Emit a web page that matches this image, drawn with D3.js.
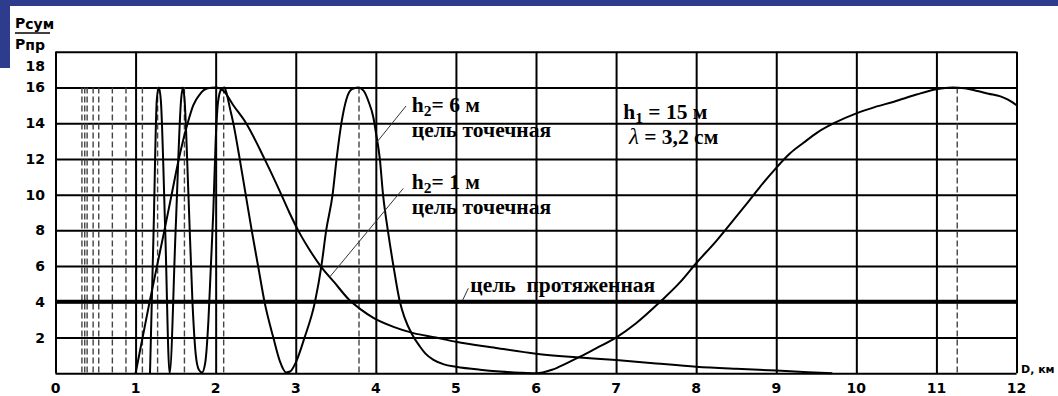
<!DOCTYPE html>
<html><head><meta charset="utf-8">
<script src="https://cdn.jsdelivr.net/npm/d3@7/dist/d3.min.js"></script>
<style>
body{margin:0;background:#fff}
svg{display:block}
.sans{font-family:"DejaVu Sans",Verdana,sans-serif;font-weight:bold;fill:#000}
.serif{font-family:"Liberation Serif","Times New Roman",serif;font-weight:bold;fill:#000}
</style>
</head><body>
<svg id="c" width="1058" height="396"></svg>
<script>
// ---- data ----
const xTicks = [0,1,2,3,4,5,6,7,8,9,10,11,12];
const yTicks = [2,4,6,8,10,12,14,16,18];
const yLabels = ["2","4","6","8","10","12","14","16","18"];
const maxMarkersKm = [0.33,0.365,0.395,0.47,0.54,0.71,0.88,1.085,1.275,1.61,2.1,3.79,11.26];
const extendedLevel = 4;

// h2 = 6 m, point target
const h6Dist  = [1.18,1.225,1.265,1.29,1.315,1.37,1.425,1.50,1.57,1.59,1.61,1.66,1.71,1.75,1.79,1.83,1.87,1.91,1.94,1.97,2.0,2.03,2.07,2.11,2.14,2.18,2.22,2.30,2.375,2.45,2.53,2.61,2.72,2.80,2.88,2.93,3.0,3.11,3.24,3.32,3.38,3.46,3.51,3.57,3.63,3.70,3.78,3.85,3.91,3.97,4.0,4.05,4.09,4.15,4.22,4.30,4.36,4.45,4.55,4.62,4.72,4.85,5.0,5.3,5.55,5.8,6.0,6.2,6.38,6.55,6.75,7.0,7.25,7.55,7.8,8.0,8.25,8.47,8.65,8.8,9.0,9.17,9.34,9.52,9.72,10.0,10.23,10.47,10.75,11.0,11.2,11.35,11.51,11.65,11.8,11.9,12.0];
const h6Power = [0,8,15.3,16,15.3,8,0,8,15.4,16,15.4,10,4,1.1,0.2,0.05,0.6,3,6,9,13,15.2,15.9,16,15.6,14.8,14,12,10,8,6,4,2,0.7,0.05,0.1,0.6,2,4,6,8,10,12,14,15.3,15.9,16,15.8,15.2,14.3,13.5,12,10,8,6,4,3.1,2.2,1.5,1.1,0.75,0.5,0.37,0.2,0.1,0.03,0,0.2,0.56,0.93,1.4,2.0,2.8,4.0,5.1,6.16,7.4,8.6,9.6,10.45,11.5,12.3,12.9,13.5,14.0,14.55,14.9,15.2,15.6,15.9,16,15.95,15.8,15.65,15.5,15.3,15.0];

// h2 = 1 m, point target
const h1Dist  = [1.0,1.175,1.36,1.45,1.54,1.65,1.72,1.80,1.90,2.0,2.1,2.22,2.38,2.61,2.82,2.92,3.03,3.16,3.31,3.48,3.67,3.82,3.97,4.22,4.47,4.75,5.0,5.5,6.0,6.5,7.0,7.5,8.0,8.5,9.0,9.4,9.7];
const h1Power = [0,4,8,10,12,14,15,15.6,15.95,16,15.8,15.0,14,12,10,9,8,7,6,5.1,4.1,3.55,3.1,2.6,2.25,2.0,1.76,1.42,1.1,0.9,0.74,0.55,0.37,0.25,0.15,0.06,0];

// ---- drawing ----
const svg = d3.select("#c");
const x = d3.scaleLinear().domain([0,12]).range([55.5,1016.5]);
const y = d3.scaleLinear().domain([0,18]).range([373.3,51.7]);

// slide background pieces
svg.append("rect").attr("x",0).attr("y",0).attr("width",1058).attr("height",6).attr("fill","#2d3c8c");
svg.append("rect").attr("x",0).attr("y",0).attr("width",10).attr("height",68).attr("fill","#2d3c8c");

// grid via axes
const gx = svg.append("g").attr("transform",`translate(0,${y(0)})`)
  .call(d3.axisBottom(x).tickValues(xTicks).tickSize(-(y(0)-y(18))).tickFormat(""));
gx.select(".domain").remove();
gx.selectAll("line").attr("stroke","#000").attr("stroke-width",2);

const gy = svg.append("g").attr("transform",`translate(${x(0)},0)`)
  .call(d3.axisLeft(y).tickValues([0].concat(yTicks)).tickSize(-(x(12)-x(0))).tickFormat(""));
gy.select(".domain").remove();
gy.selectAll("line").attr("stroke","#000").attr("stroke-width",2);

// dashed maxima markers
svg.append("g").selectAll("line").data(maxMarkersKm).join("line")
  .attr("x1",d=>x(d)).attr("x2",d=>x(d))
  .attr("y1",y(16)).attr("y2",y(0))
  .attr("stroke","#444").attr("stroke-width",1.4).attr("stroke-dasharray","6,3");

// extended target level
svg.append("line").attr("x1",x(0)).attr("x2",x(12)).attr("y1",y(extendedLevel)).attr("y2",y(extendedLevel))
  .attr("stroke","#000").attr("stroke-width",4);

const line = d3.line().x(d=>x(d[0])).y(d=>y(d[1])).curve(d3.curveMonotoneX);
svg.append("path").attr("d",line(d3.zip(h1Dist,h1Power))).attr("fill","none").attr("stroke","#000").attr("stroke-width",2);
svg.append("path").attr("d",line(d3.zip(h6Dist,h6Power))).attr("fill","none").attr("stroke","#000").attr("stroke-width",2);

// tick labels
svg.append("g").selectAll("text").data(xTicks).join("text")
  .attr("class","sans").attr("font-size",14).attr("text-anchor","middle")
  .attr("x",d=>x(d)).attr("y",393).text(d=>d);
svg.append("g").selectAll("text").data(yTicks).join("text")
  .attr("class","sans").attr("font-size",14).attr("text-anchor","end")
  .attr("x",45).attr("y",(d,i)=> (d===18 ? y(d)+14 : y(d)) + 5).text((d,i)=>yLabels[i]);

// axis titles
const yt = svg.append("text").attr("class","sans").attr("font-size",14).attr("x",15).attr("y",28);
yt.append("tspan").text("P");
yt.append("tspan").attr("dy",1).text("сум");
svg.append("line").attr("x1",15).attr("x2",50).attr("y1",33).attr("y2",33).attr("stroke","#000").attr("stroke-width",1.5);
const yb = svg.append("text").attr("class","sans").attr("font-size",14).attr("x",15).attr("y",49);
yb.append("tspan").text("P");
yb.append("tspan").attr("dy",1).text("пр");
svg.append("text").attr("class","sans").attr("font-size",11).attr("x",1021).attr("y",373).text("D, км");

// annotations
function sub(sel, base, s, rest){
  sel.append("tspan").text(base);
  sel.append("tspan").attr("font-size","72%").attr("dy",4).text(s);
  sel.append("tspan").attr("dy",-4).text(rest);
}
const fs = 21.5;
sub(svg.append("text").attr("class","serif").attr("font-size",fs).attr("x",x(4.45)).attr("y",y(14.62)), "h","2","= 6 м");
svg.append("text").attr("class","serif").attr("font-size",fs).attr("x",x(4.45)).attr("y",y(13.22)).text("цель точечная");
sub(svg.append("text").attr("class","serif").attr("font-size",fs).attr("x",x(4.45)).attr("y",y(10.31)), "h","2","= 1 м");
svg.append("text").attr("class","serif").attr("font-size",fs).attr("x",x(4.45)).attr("y",y(8.91)).text("цель точечная");
svg.append("text").attr("class","serif").attr("font-size",fs).attr("x",x(5.18)).attr("y",y(4.55)).style("white-space","pre").text("цель  протяженная");
sub(svg.append("text").attr("class","serif").attr("font-size",fs).attr("x",x(7.09)).attr("y",y(14.23)).style("white-space","pre"), "h","1"," = 15 м");
const lam = svg.append("text").attr("class","serif").attr("font-size",fs).attr("x",x(7.16)).attr("y",y(12.83)).style("white-space","pre");
lam.append("tspan").attr("font-style","italic").attr("font-weight","normal").attr("font-size",23).text("λ");
lam.append("tspan").text(" = 3,2 см");

// leader lines
const leaders = [[[4.377,14.96],[4.015,12.95]],[[4.343,10.35],[3.428,5.41]],[[5.155,4.76],[5.085,4.10]]];
svg.append("g").selectAll("line").data(leaders).join("line")
  .attr("x1",d=>x(d[0][0])).attr("y1",d=>y(d[0][1]))
  .attr("x2",d=>x(d[1][0])).attr("y2",d=>y(d[1][1]))
  .attr("stroke","#333").attr("stroke-width",1);
</script>
</body></html>
